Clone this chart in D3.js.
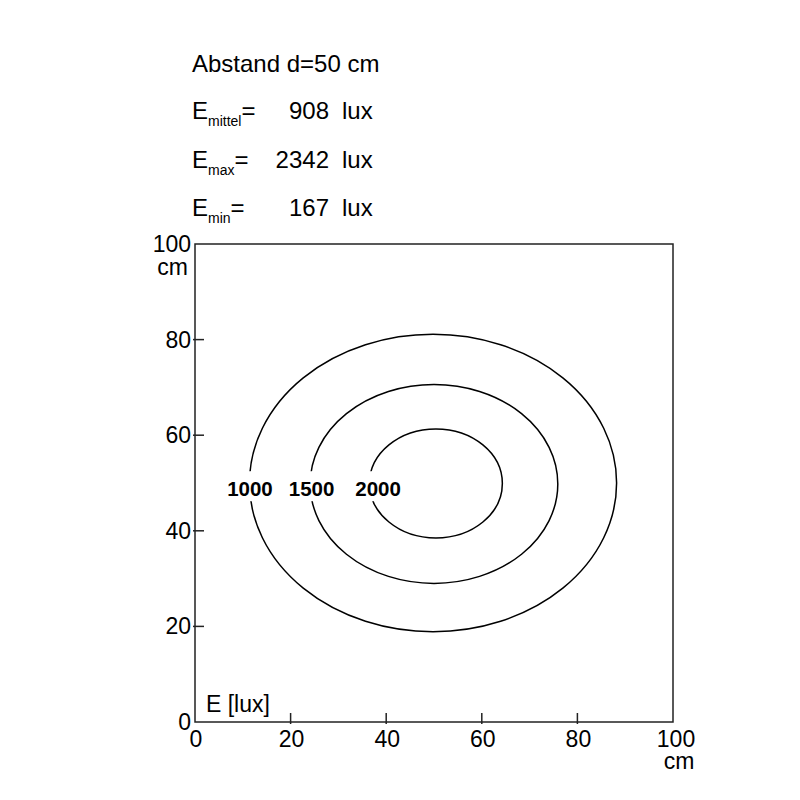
<!DOCTYPE html>
<html><head><meta charset="utf-8">
<script src="https://cdn.jsdelivr.net/npm/d3@7"></script>
<style>body{margin:0;background:#fff}svg{font-family:"Liberation Sans",Arial,sans-serif}</style>
</head><body>
<script>
const levels = [1000, 1500, 2000];
const centerX = [49.8, 50.0, 50.4];
const centerY = [50.0, 49.8, 49.9];
const radiusX = [38.4, 25.9, 13.9];
const radiusY = [31.1, 20.8, 11.4];
const labelX = [11.5, 24.4, 38.3];
const labelY = [48.7, 48.7, 48.7];
const xTicks = [0, 20, 40, 60, 80, 100];
const yTicks = [0, 20, 40, 60, 80, 100];
const statLabels = ["mittel", "max", "min"];
const statValues = [908, 2342, 167];

const W = 800, H = 800;
const svg = d3.select("body").append("svg").attr("width", W).attr("height", H);
const x = d3.scaleLinear().domain([0, 100]).range([195, 673]);
const y = d3.scaleLinear().domain([0, 100]).range([722, 244]);
const FS = 23, HS = 24;

// header
svg.append("text").attr("x", 192).attr("y", 72).attr("font-size", HS).text("Abstand d=50 cm");
statLabels.forEach((s, i) => {
  const by = 119 + i * 48.5;
  const t = svg.append("text").attr("x", 192).attr("y", by).attr("font-size", HS);
  t.append("tspan").text("E");
  t.append("tspan").attr("font-size", 14).attr("dy", 7).text(s);
  t.append("tspan").attr("dy", -7).text("=");
  svg.append("text").attr("x", 329).attr("y", by).attr("font-size", HS).attr("text-anchor", "end").text(statValues[i]);
  svg.append("text").attr("x", 342).attr("y", by).attr("font-size", HS).text("lux");
});

// frame
svg.append("rect").attr("x", x(0)).attr("y", y(100)).attr("width", x(100) - x(0)).attr("height", y(0) - y(100))
  .attr("fill", "none").attr("stroke", "#222").attr("stroke-width", 1.5);

// ticks
xTicks.slice(1, -1).forEach(v => {
  svg.append("line").attr("x1", x(v)).attr("x2", x(v)).attr("y1", y(0) + 2).attr("y2", y(0) - 9).attr("stroke", "#222").attr("stroke-width", 1.5);
});
yTicks.slice(1, -1).forEach(v => {
  svg.append("line").attr("x1", x(0) - 2).attr("x2", x(0) + 9).attr("y1", y(v)).attr("y2", y(v)).attr("stroke", "#222").attr("stroke-width", 1.5);
});
// tick labels
xTicks.forEach(v => {
  svg.append("text").attr("x", x(v) + (v === 100 ? 3 : 1)).attr("y", y(0) + 25).attr("font-size", FS)
    .attr("text-anchor", "middle").text(v);
});
svg.append("text").attr("x", x(100) + 6).attr("y", y(0) + 47).attr("font-size", FS).attr("text-anchor", "middle").text("cm");
yTicks.forEach(v => {
  svg.append("text").attr("x", x(0) - 4).attr("y", y(v) + 8).attr("font-size", FS)
    .attr("text-anchor", "end").text(v);
});
svg.append("text").attr("x", x(0) - 7).attr("y", y(100) + 31).attr("font-size", FS).attr("text-anchor", "end").text("cm");
svg.append("text").attr("x", 206).attr("y", 712).attr("font-size", FS).text("E [lux]");

// contours
levels.forEach((lv, i) => {
  svg.append("ellipse").attr("cx", x(centerX[i])).attr("cy", y(centerY[i]))
    .attr("rx", x(radiusX[i]) - x(0)).attr("ry", y(0) - y(radiusY[i]))
    .attr("fill", "none").attr("stroke", "#000").attr("stroke-width", 1.5);
});
levels.forEach((lv, i) => {
  const lx = x(labelX[i]);
  const ly = y(labelY[i]) + 7;
  svg.append("rect").attr("x", lx - 25).attr("y", ly - 25).attr("width", 50).attr("height", 30).attr("fill", "#fff");
  svg.append("text").attr("x", lx).attr("y", ly).attr("font-size", 20.5).attr("font-weight", "bold")
    .attr("text-anchor", "middle").text(lv);
});
</script>
</body></html>
